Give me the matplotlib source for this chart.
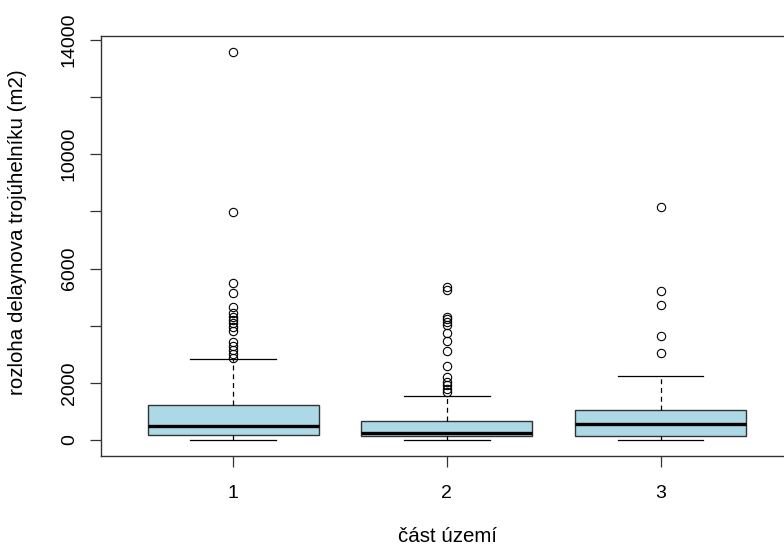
import matplotlib
matplotlib.use("Agg")
import matplotlib.pyplot as plt

plt.rcParams['font.family'] = ['Liberation Sans', 'DejaVu Sans']

groups = ["1", "2", "3"]
whislo = [10, 10, 10]
q1 = [190, 140, 140]
med = [480, 260, 550]
q3 = [1220, 680, 1050]
whishi = [2840, 1540, 2240]
fliers = [
    [13580, 7970, 5480, 5150, 4660, 4430, 4310, 4200, 4080, 3960, 3810, 3440, 3290, 3150, 3000, 2880],
    [5360, 5245, 4310, 4220, 4140, 4020, 3750, 3470, 3100, 2600, 2190, 2040, 1920, 1770, 1690],
    [8160, 5210, 4720, 3650, 3030],
]
yticks = [0, 2000, 4000, 6000, 8000, 10000, 12000, 14000]
ytick_labels = ["0", "2000", "", "6000", "", "10000", "", "14000"]

stats = []
for i in range(3):
    stats.append(dict(whislo=whislo[i], q1=q1[i], med=med[i], q3=q3[i],
                      whishi=whishi[i], fliers=fliers[i], label=groups[i]))

W, H = 784, 547
fig = plt.figure(figsize=(W / 100, H / 100), dpi=100)
left, right, top, bottom = 100.7, 793, 36, 456
ax = fig.add_axes([left / W, 1 - bottom / H, (right - left) / W, (bottom - top) / H])

ax.bxp(stats, positions=[1, 2, 3], widths=0.8, capwidths=0.4, patch_artist=True,
       boxprops=dict(facecolor="#ADD8E6", edgecolor="#333333", linewidth=1.0),
       medianprops=dict(color="black", linewidth=2.4),
       whiskerprops=dict(color="black", linewidth=0.9, linestyle=(0, (4, 3))),
       capprops=dict(color="black", linewidth=0.9),
       flierprops=dict(marker="o", markerfacecolor="none", markeredgecolor="black",
                       markersize=6, markeredgewidth=0.8))

ax.set_xlim(0.38, 3.62)
ax.set_ylim(-560, 14140)
ax.set_yticks(yticks)
ax.set_yticklabels(ytick_labels, rotation=90, va="center", fontsize=14)
ax.set_xticks([1, 2, 3])
ax.set_xticklabels(groups, fontsize=14)
ax.tick_params(axis="both", length=8, width=0.9, color="#333333")
ax.tick_params(axis="y", pad=8.5)
ax.tick_params(axis="x", pad=13)
for s in ax.spines.values():
    s.set_color("#333333")
    s.set_linewidth(1.0)

fig.text(18 / W, 1 - 232 / H, "rozloha delaynova trojúhelníku (m2)", rotation=90,
         ha="center", va="center", fontsize=14.8)
fig.text(447 / W, 1 - 537 / H, "část území", ha="center", va="center", fontsize=14.8)

fig.savefig("out.png", dpi=100)
